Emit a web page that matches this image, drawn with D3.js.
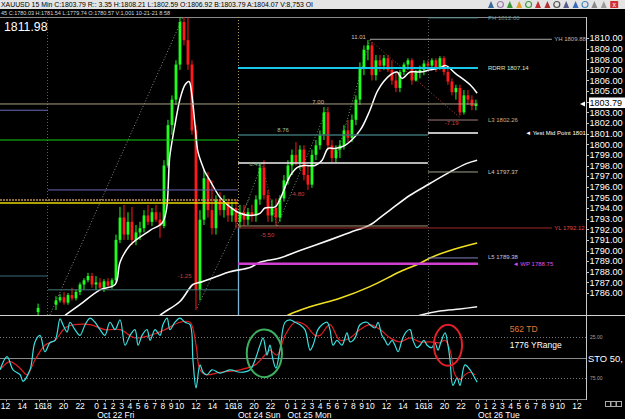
<!DOCTYPE html>
<html><head><meta charset="utf-8">
<script src="https://cdn.jsdelivr.net/npm/d3@7"></script>
<style>
html,body{margin:0;padding:0;background:#000;overflow:hidden;}
svg{display:block;font-family:"Liberation Sans",Arial,sans-serif;}
</style></head><body>
<svg id="c" width="625" height="419"></svg>
<script>
// ---------------- DATA ----------------
const headerLine1 = "XAUUSD 15 Min C:1803.79 R:: 3.35 H:1808.21 L:1802.59 O:1806.92 B:1803.79 A:1804.07 V:8,753 OI";
const headerLine2 = "45 C:1780.03 H:1781.54 L:1779.74 O:1780.57 V:1,001 10-21-21 8:58";
const rangeHigh = 1811.98;
const lastPrice = 1803.79;

// candle times in 15-min bar units (bar 0 = Oct 21 12:00)
const candleTime = [15.7].concat(d3.range(106).map(i => 24.35 + i * 1.932));
const open = [1784.2,1784.9,1785.3,1785.6,1785.1,1785.8,1785.5,1786.1,1786.8,1787.2,1787.6,1786.8,1787.0,1786.5,1787.1,1786.7,1787.2,1791.0,1793.1,1791.5,1792.7,1791.0,1791.7,1792.1,1793.3,1792.7,1793.6,1792.9,1792.3,1798.0,1801.8,1804.2,1807.5,1811.5,1809.8,1807.5,1801.3,1786.3,1792.9,1796.8,1793.8,1792.1,1794.8,1793.8,1794.5,1793.3,1794.0,1792.7,1793.6,1792.9,1793.6,1793.3,1794.8,1797.8,1795.2,1793.3,1794.0,1793.1,1794.9,1796.6,1798.0,1799.0,1798.3,1799.5,1797.1,1796.2,1799.0,1799.9,1800.9,1803.0,1799.9,1798.7,1799.5,1799.9,1801.3,1800.6,1802.3,1804.2,1807.2,1808.9,1809.3,1806.5,1807.9,1807.4,1808.1,1807.0,1806.0,1805.3,1806.8,1807.5,1807.9,1806.0,1806.8,1807.0,1807.6,1807.4,1807.9,1807.2,1808.1,1806.8,1805.9,1804.9,1805.3,1803.0,1804.6,1804.2,1803.6];
const high = [1785.0,1785.7,1785.9,1786.1,1786.0,1786.5,1786.3,1787.0,1787.4,1787.9,1787.9,1787.6,1787.4,1787.3,1787.4,1787.4,1791.5,1794.1,1794.3,1793.6,1794.1,1792.4,1792.7,1793.8,1794.3,1794.0,1794.3,1793.6,1798.5,1802.3,1804.6,1807.9,1811.98,1811.98,1811.9,1807.9,1801.8,1793.8,1797.6,1797.4,1796.6,1795.2,1795.5,1795.2,1794.9,1794.6,1794.8,1794.3,1794.3,1794.0,1794.3,1795.2,1798.2,1798.5,1795.7,1794.8,1794.9,1795.2,1797.1,1798.5,1799.5,1800.2,1799.9,1799.9,1798.0,1799.5,1800.4,1801.3,1803.5,1803.5,1800.4,1799.9,1800.4,1801.8,1802.3,1802.8,1804.6,1807.7,1809.3,1809.8,1809.6,1808.4,1808.4,1808.4,1808.4,1807.9,1806.8,1807.0,1807.7,1808.1,1808.1,1807.0,1807.4,1807.9,1807.9,1808.1,1808.1,1808.3,1808.3,1807.2,1806.2,1805.6,1805.6,1805.1,1805.1,1804.6,1804.2];
const low = [1783.9,1784.4,1785.1,1784.9,1784.9,1785.3,1785.3,1785.8,1786.3,1787.0,1786.5,1786.3,1786.3,1786.1,1786.5,1786.4,1787.0,1790.7,1791.0,1791.0,1790.5,1790.5,1791.0,1791.7,1792.4,1792.3,1792.7,1791.2,1792.1,1797.8,1800.9,1803.7,1807.0,1809.3,1807.0,1800.9,1784.4,1785.3,1792.4,1793.1,1791.5,1791.5,1793.3,1793.1,1792.7,1792.7,1792.1,1792.1,1792.3,1792.4,1792.7,1792.7,1794.3,1794.8,1792.7,1792.7,1792.4,1792.7,1794.6,1796.2,1797.1,1798.0,1797.6,1796.6,1795.7,1795.9,1798.5,1799.5,1800.4,1799.5,1798.3,1798.3,1798.7,1799.5,1800.2,1800.2,1801.8,1803.7,1806.5,1807.9,1806.0,1806.0,1806.8,1807.0,1806.8,1805.6,1804.9,1804.9,1806.5,1807.0,1805.6,1805.9,1806.2,1806.5,1807.0,1807.0,1806.8,1807.0,1806.5,1805.6,1804.6,1804.2,1802.7,1802.8,1803.7,1803.2,1803.2];
const close = [1784.6,1785.3,1785.6,1785.1,1785.8,1785.5,1786.1,1786.8,1787.2,1787.6,1786.8,1787.0,1786.5,1787.1,1786.7,1787.2,1791.0,1793.1,1791.5,1792.7,1791.0,1791.7,1792.1,1793.3,1792.7,1793.6,1792.9,1792.3,1798.0,1801.8,1804.2,1807.5,1811.5,1809.8,1807.5,1801.3,1786.3,1792.9,1796.8,1793.8,1792.1,1794.8,1793.8,1794.5,1793.3,1794.0,1792.7,1793.6,1792.9,1793.6,1793.3,1794.8,1797.8,1795.2,1793.3,1794.0,1793.1,1794.9,1796.6,1798.0,1799.0,1798.3,1799.5,1797.1,1796.2,1799.0,1799.9,1800.9,1803.0,1799.9,1798.7,1799.5,1799.9,1801.3,1800.6,1802.3,1804.2,1807.2,1808.9,1809.3,1806.5,1807.9,1807.4,1808.1,1807.0,1806.0,1805.3,1806.8,1807.5,1807.9,1806.0,1806.8,1807.0,1807.6,1807.4,1807.9,1807.2,1808.1,1806.8,1805.9,1804.9,1805.3,1803.0,1804.6,1804.2,1803.6,1803.8];

// moving averages [bar, price]
const maFast = [[28.7,1783.9],[35.9,1784.9],[45.6,1786.3],[52.9,1786.8],[55.3,1788.9],[60.1,1790.5],[69.8,1791.9],[76.0,1792.7],[79.4,1799.0],[81.8,1801.8],[84.2,1804.2],[86.7,1805.6],[88.6,1805.9],[90.0,1804.6],[91.5,1801.8],[92.9,1799.3],[94.9,1798.1],[96.3,1797.4],[98.7,1796.6],[103.6,1795.0],[108.4,1794.1],[113.3,1793.5],[118.1,1793.3],[122.9,1793.5],[125.3,1794.0],[130.2,1794.1],[132.5,1794.8],[137.4,1797.0],[140.8,1797.8],[144.6,1798.0],[149.5,1798.0],[152.9,1798.5],[155.8,1799.6],[159.1,1799.6],[164.0,1799.9],[171.2,1801.3],[176.0,1803.2],[179.9,1805.1],[185.7,1806.5],[189.1,1806.8],[191.5,1806.2],[195.4,1806.8],[200.2,1806.8],[205.0,1807.0],[209.8,1807.2],[212.7,1807.4],[217.1,1806.7],[224.4,1805.6],[227.8,1804.8]];
const maMid = [[70.0,1783.0],[74.6,1783.9],[84.2,1785.2],[90.5,1786.8],[93.9,1787.0],[101.2,1787.5],[108.4,1788.0],[118.1,1788.4],[122.9,1788.9],[132.5,1789.3],[142.2,1790.0],[156.7,1791.0],[166.4,1791.7],[176.0,1792.4],[180.9,1793.1],[185.7,1793.8],[195.4,1795.2],[205.0,1796.3],[214.7,1797.4],[222.9,1798.2],[227.8,1798.5]];
const maSlow = [[132.0,1783.3],[136.4,1783.9],[147.1,1784.7],[161.5,1785.5],[176.0,1786.6],[190.5,1788.0],[200.2,1788.8],[205.0,1789.3],[214.7,1790.0],[227.8,1790.7]];
const maLong = [[196.0,1783.6],[200.2,1783.9],[209.8,1784.3],[219.5,1784.5],[227.8,1784.7]];

// horizontal levels: price, start bar, end bar
const levelPrice = [1803.79,1800.40,1803.20,1795.70,1794.75,1794.47,1787.60,1786.30,1807.18,1809.88,1811.90,1802.28,1801.06,1800.87,1798.24,1797.39,1792.31,1792.12,1789.30,1788.75];
const levelStart = [-3,-3,-3,20.5,-3,-3,-3,20.5,112.3,176,204,204,204,112.3,112.3,204,112.3,112.3,204,112.3];
const levelEnd   = [228.2,112.3,20.5,112.3,112.3,112.3,20.5,112.3,228.2,263.9,228.2,228.2,228.2,204,204,228.2,204,263.9,228.2,228.2];

const rightLabels = ["PH 1812.00","YH 1809.88","RDRR 1807.14","L3 1802.26","\u25C4 Yest Mid Point 1801","L4 1797.37","YL 1792.12","L5 1789.38","\u25C4 WP 1788.75"];
const rightLabelBar = [233,265,233,233,251,233,265,233,245];
const rightLabelPrice = [1811.9,1809.88,1807.18,1802.28,1801.06,1797.39,1792.12,1789.38,1788.75];

// fib swings [bar0, price0, bar1, price1]
const fibLegs = [[21.4,1783.93,85.7,1811.98],[92.5,1784.6,118.1,1795.0],[112.3,1792.3,123.9,1798.2],[123.9,1798.2,131.1,1792.3],[131.1,1792.3,155.8,1803.5],[159.6,1798.6,176.0,1809.8],[176.0,1809.8,219.5,1802.5]];
const fibLabels = ["11.01","7.00","8.76","6.43","-4.80","-5.50","-1.25","-7.19"];
const fibBar = [170.5,151,134,120.5,141,126.5,86.5,215.5];
const fibPrice = [1810.1,1804.0,1801.3,1798.1,1795.3,1791.5,1787.6,1802.0];

const sessionBars = [20,112.3,204];

// stochastic [bar, value]
const stochK = [[-2.7,65],[0.7,49],[3.6,65],[7.0,71],[8.4,79],[11.8,65],[14.2,31],[16.6,23],[19.0,43],[21.4,32],[23.9,29],[26.3,3],[27.7,10],[29.7,19],[31.1,7],[33.5,16],[35.9,23],[38.4,10],[40.8,2],[43.2,7],[45.6,16],[48.0,23],[50.4,7],[52.9,16],[55.3,4],[57.7,35],[60.1,23],[62.5,16],[64.0,35],[65.9,23],[68.3,16],[69.8,29],[72.2,16],[74.6,23],[76.0,10],[78.0,2],[79.4,16],[81.8,7],[84.2,2],[86.7,7],[89.1,10],[90.5,53],[92.0,87],[93.9,59],[95.4,68],[97.3,71],[99.7,65],[103.6,69],[108.4,65],[113.3,68],[118.1,65],[120.5,53],[122.9,35],[124.4,26],[126.3,47],[127.7,35],[129.2,53],[130.6,63],[132.5,41],[135.0,7],[137.4,4],[139.8,7],[142.2,10],[144.6,16],[147.1,41],[148.5,35],[150.9,16],[152.9,10],[155.3,7],[156.7,16],[158.2,35],[160.1,29],[162.5,35],[164.9,20],[166.4,31],[168.8,26],[171.2,10],[174.6,7],[176.0,10],[178.5,14],[179.9,7],[181.8,23],[183.3,29],[184.7,35],[186.7,29],[188.1,35],[189.6,43],[191.5,29],[193.4,19],[195.4,16],[196.8,29],[198.7,38],[200.2,35],[202.1,29],[203.6,35],[205.9,38],[207.4,32],[208.9,41],[210.3,31],[212.3,20],[213.7,35],[214.7,53],[216.1,84],[218.1,75],[219.5,84],[221.9,59],[224.4,65],[225.8,71],[227.8,80]];
const stochD = [[-2.7,65],[2.1,55],[7.0,63],[10.3,71],[14.2,53],[19.0,35],[23.9,29],[28.7,14],[33.5,10],[40.8,10],[48.0,16],[55.3,16],[62.5,26],[69.8,23],[77.0,16],[84.2,7],[89.1,7],[92.0,35],[93.9,65],[96.8,71],[103.6,68],[113.3,65],[120.5,59],[125.3,47],[127.7,41],[131.1,47],[135.0,23],[139.8,7],[144.6,10],[149.5,23],[151.9,23],[156.7,10],[161.5,29],[166.4,26],[171.2,16],[176.0,10],[180.9,16],[185.7,26],[190.5,31],[195.4,26],[200.2,31],[205.0,31],[209.8,32],[212.3,29],[214.7,41],[217.1,71],[219.5,77],[221.9,71],[224.4,68],[226.8,71]];
const stochLevels = [25,50,75];
// highlighted areas: [bar, value, halfWidthBars, halfHeightValue]
const greenMark = [125,45,8.5,29];
const redMark = [213.7,35,6.8,25];
const panelNotes = ["562 TD","1776 YRange"];

// axes
const priceTicks = d3.range(1786,1811);
const tickLabels = ['12','14','16','18','20','22','0','1','2','3','4','5','6','7','8','9','10','12','14','16','18','20','22','0','1','2','3','4','5','6','7','8','9','10','12','14','16','18','20','22','0','1','2','3','4','5','6','7','8','9','10','12'];
const tickBars = [0,8,16,20,28,36,44,48,52,56,60,64,68,72,76,80,84,92,100,108,112,120,128,136,140,144,148,152,156,160,164,168,172,176,184,192,200,204,212,220,228,232,236,240,244,248,252,256,260,264,268,276];
const dateLabels = ['Oct 22 Fri','Oct 24 Sun','Oct 25 Mon','Oct 26 Tue'];
const dateBars = [44,112,136,228];

// ---------------- DRAW ----------------
const W=625,H=419, axisX=586, topY=17, mainBottom=315, stTop=316, stBottom=399;
const x = d3.scaleLinear().domain([0,276]).range([5.6,5.6+276*2.07]);
const y = d3.scaleLinear().domain([1786,1810]).range([293,38]);
const ys = d3.scaleLinear().domain([0,100]).range([316.5,398.5]);

const svg = d3.select('#c');
svg.append('rect').attr('width',W).attr('height',H).attr('fill','#000');
const defs = svg.append('defs');
defs.append('clipPath').attr('id','mainClip').append('rect').attr('x',0).attr('y',topY).attr('width',axisX).attr('height',mainBottom-topY);
defs.append('clipPath').attr('id','stClip').append('rect').attr('x',0).attr('y',stTop).attr('width',axisX).attr('height',stBottom-stTop);

// header
svg.append('rect').attr('x',0).attr('y',0).attr('width',W).attr('height',9).attr('fill','#e4e4e4');
svg.append('text').attr('x',1).attr('y',7).attr('font-size',6.6).attr('fill','#000')
  .attr('textLength',312).attr('lengthAdjust','spacingAndGlyphs').text(headerLine1);
svg.append('text').attr('x',1).attr('y',14.6).attr('font-size',6).attr('fill','#d8d8d8')
  .attr('textLength',169).attr('lengthAdjust','spacingAndGlyphs').text(headerLine2);
// toolbar icons
const iconColors=['#3a6a9a','#a07ab0','#3a9a3a','#e0a030','#3aa03a','#c03030','#b03030','#505050','#5a5a8a','#3a6ac0','#4a8ac0','#8a8a8a','#9a9a9a','#d03030'];
const icons = svg.append('g');
iconColors.forEach((c,i)=>{
  const ix = 488 + i*9.4;
  if(i===13) { icons.append('rect').attr('x',ix).attr('y',1).attr('width',8).attr('height',7).attr('fill',c);
    icons.append('text').attr('x',ix+4).attr('y',7).attr('font-size',7).attr('fill','#fff').attr('text-anchor','middle').text('x'); }
  else if(i%3===1) icons.append('circle').attr('cx',ix+3).attr('cy',4.5).attr('r',3).attr('fill','none').attr('stroke',c).attr('stroke-width',1.2);
  else icons.append('path').attr('d',`M${ix},8 L${ix+3},1 L${ix+6},8 Z`).attr('fill',c);
});

// big range high
svg.append('text').attr('x',4).attr('y',30.5).attr('font-size',12.3).attr('fill','#fff').text(rangeHigh.toFixed(2));

// frame
svg.append('line').attr('x1',0).attr('x2',axisX).attr('y1',topY+0.5).attr('y2',topY+0.5).attr('stroke','#8a8a8a');
svg.append('line').attr('x1',0).attr('x2',W).attr('y1',mainBottom+0.5).attr('y2',mainBottom+0.5).attr('stroke','#d0d0d0');
svg.append('line').attr('x1',0).attr('x2',axisX).attr('y1',stBottom+0.5).attr('y2',stBottom+0.5).attr('stroke','#8a8a8a');
svg.append('line').attr('x1',axisX+0.5).attr('x2',axisX+0.5).attr('y1',topY).attr('y2',stBottom+1).attr('stroke','#c8c8c8');

const main = svg.append('g').attr('clip-path','url(#mainClip)');

// session verticals
sessionBars.forEach((b,i)=>{
  const xx = Math.round(x(b))+0.5;
  if(i===1){
    main.append('line').attr('x1',xx).attr('x2',xx).attr('y1',topY).attr('y2',y(1792.2)).attr('stroke','#a89860').attr('stroke-dasharray','1,2');
    main.append('line').attr('x1',xx).attr('x2',xx).attr('y1',y(1792.2)).attr('y2',mainBottom).attr('stroke','#7fb4d4').attr('stroke-width',1.3);
  } else {
    main.append('line').attr('x1',xx).attr('x2',xx).attr('y1',topY).attr('y2',mainBottom).attr('stroke','#606060').attr('stroke-dasharray','1,2');
  }
});

// fib legs
const legColors=['#8a8a8a','#7a8a7a','#6aa06a','#b04848','#6aa06a','#6aa06a','#b04848'];
fibLegs.forEach((d,i)=>{
  main.append('line').attr('x1',x(d[0])).attr('y1',y(d[1])).attr('x2',x(d[2])).attr('y2',y(d[3]))
    .attr('stroke',legColors[i]).attr('stroke-dasharray','1,2').attr('stroke-width',1);
});

// candles
const cg = main.append('g');
candleTime.forEach((t,i)=>{
  const up = close[i] >= open[i];
  const col = up ? '#1cff1c' : '#ff1a1a';
  const cx = x(t);
  cg.append('line').attr('x1',cx).attr('x2',cx).attr('y1',y(high[i])).attr('y2',y(low[i])).attr('stroke',col).attr('stroke-width',1);
  const yt = y(Math.max(open[i],close[i])), yb = y(Math.min(open[i],close[i]));
  cg.append('rect').attr('x',cx-1.4).attr('width',2.8).attr('y',yt).attr('height',Math.max(1,yb-yt)).attr('fill',col);
});

// levels
const levelStyle = [
 ['#a8a080',1,null],['#10d010',1.2,null],['#6868b8',1,null],['#6868b8',1,null],
 ['#c09058',1.6,'2,1'],['#e8d800',1.6,null],['#3a6a7a',1,null],['#4a7a7a',1,null],
 ['#18c8e8',2,null],['#a8a8a8',1,null],['#5a9090',1,null],['#a07878',1,null],
 ['#ffffff',1.5,null],['#3a7272',1.5,null],['#f0f0f0',1.5,null],['#a0a088',1,null],
 ['#a89070',1,null],['#a02828',1,null],['#8080c0',1,null],['#d040d0',2.5,null]];
levelPrice.forEach((p,i)=>{
  const s=levelStyle[i];
  const l = svg.append('line').attr('x1',Math.max(0,x(levelStart[i]))).attr('x2',x(levelEnd[i]))
    .attr('y1',y(p)).attr('y2',y(p)).attr('stroke',s[0]).attr('stroke-width',s[1]);
  if(s[2]) l.attr('stroke-dasharray',s[2]);
});

// moving averages
const line = d3.line().x(d=>x(d[0])).y(d=>y(d[1])).curve(d3.curveCatmullRom);
main.append('path').datum(maSlow).attr('d',line).attr('fill','none').attr('stroke','#f0e020').attr('stroke-width',1.6);
main.append('path').datum(maLong).attr('d',line).attr('fill','none').attr('stroke','#f4f4f4').attr('stroke-width',1.5);
main.append('path').datum(maMid).attr('d',line).attr('fill','none').attr('stroke','#f8f8f8').attr('stroke-width',1.6);
main.append('path').datum(maFast).attr('d',line).attr('fill','none').attr('stroke','#ffffff').attr('stroke-width',1.5);

// labels
const rlColors=['#5f8f8f','#b8b8b8','#d8e8c8','#c8b080','#ffffff','#d0d0c0','#e04848','#c0c0f0','#e050e0'];
rightLabels.forEach((t,i)=>{
  svg.append('text').attr('x',x(rightLabelBar[i])).attr('y',y(rightLabelPrice[i])+2.2)
    .attr('font-size',6).attr('fill',rlColors[i]).text(t);
});
const flColors=['#c0c0c0','#c0c0a0','#a0c0a0','#80b080','#c84040','#c84040','#c84040','#c84040'];
fibLabels.forEach((t,i)=>{
  svg.append('text').attr('x',x(fibBar[i])).attr('y',y(fibPrice[i])+2)
    .attr('font-size',6).attr('fill',flColors[i]).attr('text-anchor','middle').text(t);
});

// price axis
priceTicks.forEach(p=>{
  const yy = Math.round(y(p))+0.5;
  svg.append('line').attr('x1',axisX).attr('x2',axisX+3).attr('y1',yy).attr('y2',yy).attr('stroke','#c8c8c8');
  if(Math.abs(y(p)-y(lastPrice))>7)
    svg.append('text').attr('x',589.5).attr('y',y(p)+3.3).attr('font-size',9.2).attr('fill','#fff').text(p.toFixed(2));
});
svg.append('rect').attr('x',589).attr('y',y(lastPrice)-6.5).attr('width',36).attr('height',10.5).attr('fill','#fff');
svg.append('text').attr('x',589.5).attr('y',y(lastPrice)+1.6).attr('font-size',9).attr('fill','#000').text(lastPrice.toFixed(2));
svg.append('path').attr('d',`M${axisX-6},${y(lastPrice)} l5,-2.5 l0,5 Z`).attr('fill','#fff');

// stochastic
const st = svg.append('g').attr('clip-path','url(#stClip)');
stochLevels.forEach(v=>{
  const yy=Math.round(ys(v))+0.5;
  const l=st.append('line').attr('x1',0).attr('x2',axisX).attr('y1',yy).attr('y2',yy).attr('stroke',v===50?'#8a8a8a':'#777');
  if(v!==50) l.attr('stroke-dasharray','1,2');
});
const sline = d3.line().x(d=>x(d[0])).y(d=>ys(d[1])).curve(d3.curveCatmullRom);
st.append('path').datum(stochD).attr('d',sline).attr('fill','none').attr('stroke','#e02020').attr('stroke-width',1.2);
st.append('path').datum(stochK).attr('d',sline).attr('fill','none').attr('stroke','#3ce0e0').attr('stroke-width',1.2);
[[greenMark,'#3cb060'],[redMark,'#e0202a']].forEach(([m,c])=>{
  svg.append('ellipse').attr('cx',x(m[0])).attr('cy',ys(m[1]))
    .attr('rx',x(m[0]+m[2])-x(m[0])).attr('ry',ys(m[1]+m[3])-ys(m[1]))
    .attr('fill','none').attr('stroke',c).attr('stroke-width',2);
});
svg.append('text').attr('x',x(243.6)).attr('y',ys(15)+3).attr('font-size',8.5).attr('fill','#e07838').text(panelNotes[0]);
svg.append('text').attr('x',x(243.6)).attr('y',ys(35)+3).attr('font-size',8.5).attr('fill','#fff').text(panelNotes[1]);
svg.append('text').attr('x',590).attr('y',ys(25)+2).attr('font-size',5).attr('fill','#a0a0a0').text('25.00');
svg.append('text').attr('x',590).attr('y',ys(75)+2).attr('font-size',5).attr('fill','#a0a0a0').text('75.00');
svg.append('text').attr('x',588).attr('y',ys(50)+4).attr('font-size',9.4).attr('fill','#fff').text('STO  50,');

// time axis
tickBars.forEach((b,i)=>{
  const xx=Math.round(x(b))+0.5;
  svg.append('line').attr('x1',xx).attr('x2',xx).attr('y1',stBottom+1).attr('y2',stBottom+2.5).attr('stroke','#aaa');
  svg.append('text').attr('x',x(b)).attr('y',409).attr('font-size',8.5).attr('fill','#fff').attr('text-anchor','middle').text(tickLabels[i]);
});
dateLabels.forEach((t,i)=>{
  svg.append('text').attr('x',x(dateBars[i])+0.5).attr('y',418).attr('font-size',8.5).attr('fill','#fff').text(t);
});
// small boxes bottom right
[0,1,2].forEach(i=>{
  svg.append('rect').attr('x',605.5+i*5.5).attr('y',401.5).attr('width',5).attr('height',5).attr('fill','none').attr('stroke','#aaa');
});
</script>
</body></html>
